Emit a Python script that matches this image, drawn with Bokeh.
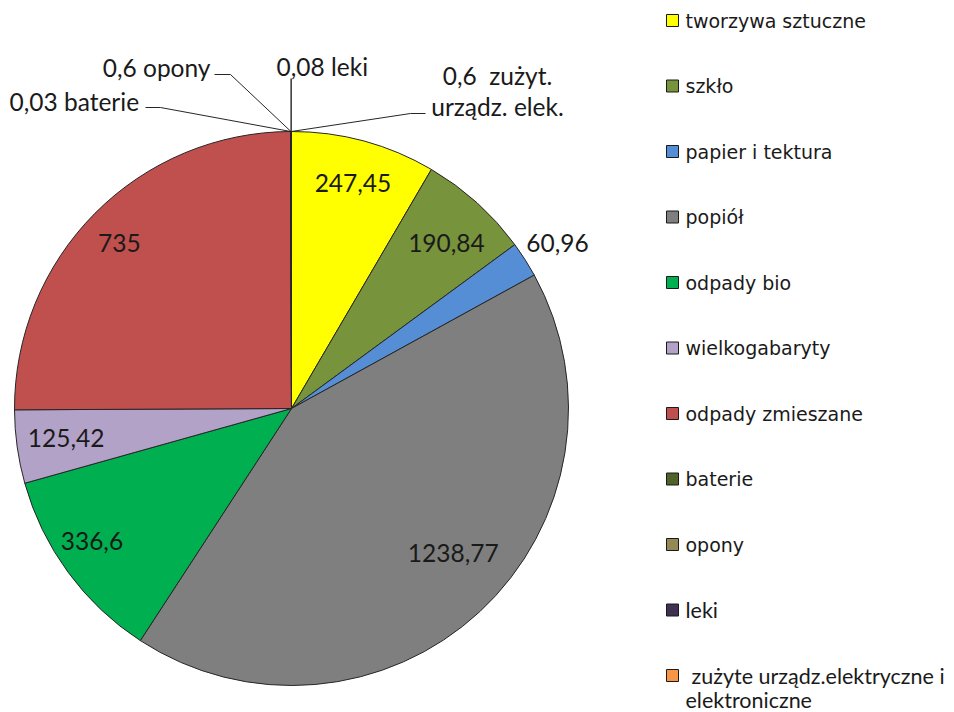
import numpy as np
from bokeh.plotting import figure
from bokeh.models import Range1d, ColumnDataSource
from bokeh.core.properties import value
from bokeh.embed import file_html
from bokeh.resources import INLINE

# ---- data ----
categories = ["tworzywa sztuczne", "szkło", "papier i tektura", "popiół", "odpady bio",
              "wielkogabaryty", "odpady zmieszane", "baterie", "opony", "leki",
              "zużyte urządz.elektryczne i elektroniczne"]
values = [247.45, 190.84, 60.96, 1238.77, 336.6, 125.42, 735, 0.03, 0.6, 0.08, 0.6]
value_labels = ["247,45", "190,84", "60,96", "1238,77", "336,6", "125,42", "735",
                "0,03 baterie", "0,6 opony", "0,08 leki", "0,6\u00a0\u00a0zużyt.|urządz. elek."]
colors = ["#FFFF00", "#77933C", "#558ED5", "#7F7F7F", "#00B050", "#B3A2C7",
          "#C0504D", "#4F6228", "#938953", "#3F3151", "#F79646"]
legend_lines = ["tworzywa sztuczne", "szkło", "papier i tektura", "popiół", "odpady bio",
                "wielkogabaryty", "odpady zmieszane", "baterie", "opony", "leki",
                "zużyte urządz.elektryczne i|elektroniczne"]

# ---- layout (page pixel helpers) ----
W, H = 954, 712
def px(x): return x
def py(y): return H - y

p = figure(width=W, height=H, output_backend="svg", toolbar_location=None,
           x_range=Range1d(0, W), y_range=Range1d(0, H),
           x_axis_location=None, y_axis_location=None, min_border=0)
p.grid.visible = False
p.outline_line_color = None
p.background_fill_color = "white"

cx, cy, r = px(291), py(408), 277
vals = np.array(values, dtype=float)
frac = vals / vals.sum()
cum_after = np.cumsum(frac)
cum_before = cum_after - frac
start = np.pi / 2 - 2 * np.pi * cum_before
end = np.pi / 2 - 2 * np.pi * cum_after
mid = (start + end) / 2

src = ColumnDataSource(dict(start=start, end=end, color=colors))
p.wedge(x=cx, y=cy, radius=r, start_angle="start", end_angle="end", direction="clock",
        fill_color="color", line_color="#262626", line_width=1, source=src)

lab_font = value("Lato")
FS = "24.5px"
fr = [0.82, 0.83, 1.13, 0.80, 0.84, 0.84, 0.86]
ldx = [2, 1, 2, 11, -12, 5, -3]     # label nudges (page px)
ldy = [-6, 5, 3, -18, -5, -3, 2]
for i in range(7):
    x = cx + fr[i] * r * np.cos(mid[i]) + ldx[i]
    y = cy + fr[i] * r * np.sin(mid[i]) - ldy[i]
    p.text(x=[x], y=[y], text=[value_labels[i]], text_font=lab_font,
           text_font_size=FS, text_align="center", text_baseline="middle",
           text_color="#1a1a1a")

# leader-line labels for tiny slices
edge = [(cx + r * np.cos(mid[i]), cy + r * np.sin(mid[i])) for i in range(7, 11)]
# baterie
p.line(x=[px(145), px(160), edge[0][0]], y=[py(107), py(107), edge[0][1]], line_color="#262626", line_width=1)
p.text(x=[px(9)], y=[py(101)], text=[value_labels[7]], text_font=lab_font, text_font_size=FS,
       text_align="left", text_baseline="middle", text_color="#1a1a1a")
# opony
p.line(x=[px(214), px(230), edge[1][0]], y=[py(74), py(74), edge[1][1]], line_color="#262626", line_width=1)
p.text(x=[px(210)], y=[py(67)], text=[value_labels[8]], text_font=lab_font, text_font_size=FS,
       text_align="right", text_baseline="middle", text_color="#1a1a1a")
# leki
p.line(x=[edge[2][0], edge[2][0]], y=[py(78), edge[2][1]], line_color="#000000", line_width=1.2)
p.text(x=[px(276)], y=[py(66)], text=[value_labels[9]], text_font=lab_font, text_font_size=FS,
       text_align="left", text_baseline="middle", text_color="#1a1a1a")
# zuzyte
p.line(x=[edge[3][0], px(410), px(425)], y=[edge[3][1], py(113), py(113)], line_color="#262626", line_width=1)
zl = value_labels[10].split("|")
p.text(x=[px(497), px(497)], y=[py(75), py(106)], text=zl, text_font=lab_font, text_font_size=FS,
       text_align="center", text_baseline="middle", text_color="#1a1a1a")

# legend
leg_y0, leg_dy = 20, 65.5
for i, name in enumerate(legend_lines):
    yc = leg_y0 + i * leg_dy
    p.rect(x=[px(672)], y=[py(yc)], width=12, height=12, fill_color=colors[i],
           line_color="#1a1a1a", line_width=1)
    if i == 10:
        parts = name.split("|")
        p.text(x=[px(691)], y=[py(yc)], text=[parts[0]], text_font=value("Lato"),
               text_font_size="21.5px", text_align="left", text_baseline="middle",
               text_color="#1a1a1a")
        p.text(x=[px(685)], y=[py(yc + 24)], text=[parts[1]], text_font=value("Lato"),
               text_font_size="21.5px", text_align="left", text_baseline="middle",
               text_color="#1a1a1a")
    elif i == 9:
        p.text(x=[px(685)], y=[py(yc)], text=[name], text_font=value("Lato"),
               text_font_size="21.5px", text_align="left", text_baseline="middle",
               text_color="#1a1a1a")
    else:
        p.text(x=[px(685)], y=[py(yc)], text=[name], text_font=value("DejaVu Sans"),
               text_font_size="19px", text_align="left", text_baseline="middle",
               text_color="#1a1a1a")

open("out.html", "w").write(file_html(p, INLINE))
